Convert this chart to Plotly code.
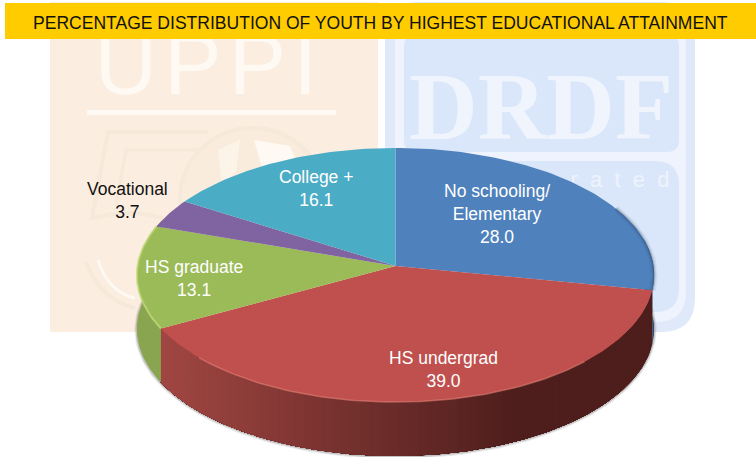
import math
import plotly.graph_objects as go

# ---- data ----
categories = ["No schooling/<br>Elementary", "HS undergrad", "HS graduate", "Vocational", "College +"]
values = [28.0, 39.0, 13.1, 3.7, 16.1]
top_colors = ["#4F81BD", "#C0504D", "#9BBB59", "#8064A2", "#4BACC6"]
title_text = "PERCENTAGE DISTRIBUTION OF YOUTH BY HIGHEST EDUCATIONAL ATTAINMENT"

# ---- projection of the tilted pie onto the page ----
CX, CY = 395.5, 266.0
RX, RY = 258.0, 126.4
PERSP = 0.0709
DEPTH = 54.0
W, H = 756, 457
FONT = "Liberation Sans, Arial"


def project(theta_deg, drop=0.0):
    t = math.radians(theta_deg)
    u, v = math.sin(t), math.cos(t)
    d = 1 + PERSP * v
    return CX + RX * u / d, CY - RY * v / d + drop


def arc(a, b, drop=0.0, step=1.0):
    n = max(2, int(abs(b - a) / step) + 1)
    pts = [project(a + (b - a) * i / (n - 1), drop) for i in range(n)]
    return [p[0] for p in pts], [p[1] for p in pts]


def mix(c1, c2, f):
    f = max(0.0, min(1.0, f))
    return "rgb(%d,%d,%d)" % tuple(round(c1[i] + (c2[i] - c1[i]) * f) for i in range(3))


total = sum(values)
bounds = [0.0]
for val in values:
    bounds.append(bounds[-1] + val / total * 360.0)

traces = []


def poly(xs, ys, color):
    traces.append(go.Scatter(x=xs, y=ys, mode="lines", fill="toself", fillcolor=color,
                             line=dict(width=0), hoverinfo="skip", showlegend=False))


def stroke(xs, ys, color, width):
    traces.append(go.Scatter(x=xs, y=ys, mode="lines", line=dict(color=color, width=width),
                             hoverinfo="skip", showlegend=False))


def wm_text(x, y, text, size, color, family):
    traces.append(go.Scatter(x=[x], y=[y], mode="text", text=[text],
                             textfont=dict(size=size, color=color, family=family),
                             textposition="middle center", hoverinfo="skip", showlegend=False))


# watermark texts (drawn first so that the pie covers them)
wm_text(206, 72, "U\u200aP\u200aP\u200aI", 86, "#FEF9F3", "Liberation Sans")
wm_text(541, 115, "<b>DRDF</b>", 95, "#EFF4FD", "Liberation Serif")
wm_text(620, 181, "r\u00a0\u00a0a\u00a0\u00a0t\u00a0\u00a0e\u00a0\u00a0d", 22, "#EEF3FC", "Liberation Sans")

# soft contact shadow under the pie
for wid, alpha in ((5, 0.12), (2.5, 0.25)):
    sx, sy = arc(72, 296, DEPTH + 0.5)
    stroke(sx, sy, "rgba(80,80,80,%.2f)" % alpha, wid)

# side walls: overlapping strips painted in order, so that no seams appear
RED_L, RED_R = (160, 70, 66), (78, 30, 28)
for idx, (a, b) in enumerate(zip(bounds[:-1], bounds[1:])):
    vis_a, vis_b = max(a, 78.0), min(b, 292.0)
    if vis_b <= vis_a:
        continue
    if idx == 1:
        strips = max(1, int((vis_b - vis_a) / 2.0))
        # paint from the far right (start angle) to the left; each overlaps the last
        for i in range(strips):
            p = vis_a + (vis_b - vis_a) * i / strips
            xs1, ys1 = arc(p, vis_b, 0, 0.5)
            xs2, ys2 = arc(vis_b, p, DEPTH, 0.5)
            col = mix(RED_L, RED_R, (project(p)[0] - 165) / 355)
            poly(xs1 + xs2 + xs1[:1], ys1 + ys2 + ys1[:1], col)
    else:
        col = "rgb(46,72,108)" if idx == 0 else "rgb(138,165,79)"
        xs1, ys1 = arc(vis_a, vis_b, 0, 0.5)
        xs2, ys2 = arc(vis_b, vis_a, DEPTH, 0.5)
        poly(xs1 + xs2 + xs1[:1], ys1 + ys2 + ys1[:1], col)

# top faces
for a, b, col in zip(bounds[:-1], bounds[1:], top_colors):
    xs, ys = arc(a, b)
    poly([CX] + xs + [CX], [CY] + ys + [CY], col)

# bevel highlights and edge darkening
for wid, alpha in ((7, 0.06), (4, 0.10), (2, 0.18)):
    xs, ys = arc(62, bounds[1])
    stroke(xs, ys, "rgba(25,45,80,%.2f)" % alpha, wid)
xs, ys = arc(bounds[1] + 35, bounds[2] - 15)
stroke(xs, ys, "rgba(240,140,130,0.5)", 1.5)
xs, ys = arc(bounds[2], bounds[3])
stroke(xs, ys, "rgba(195,220,120,0.7)", 2)

labels = [
    (497, 213.5, categories[0] + "<br>%.1f" % values[0], "white"),
    (443, 369, categories[1] + "<br>%.1f" % values[1], "white"),
    (194, 278, categories[2] + "<br>%.1f" % values[2], "white"),
    (127, 200, categories[3] + "<br>%.1f" % values[3], "#111111"),
    (316, 188, categories[4] + "<br>%.1f" % values[4], "white"),
]
annotations = [dict(x=x, y=y, text=t, showarrow=False, xref="x", yref="y", align="center",
                    xanchor="center", yanchor="middle", font=dict(family=FONT, size=17.5, color=c))
               for x, y, t, c in labels]
annotations.append(dict(x=380.5, y=22.5, text=title_text, showarrow=False, xref="x", yref="y",
                        xanchor="center", yanchor="middle", font=dict(family=FONT, size=17.55, color="#111111")))


def rounded(x0, y0, x1, y1, r, fill):
    path = (f"M{x0+r},{y0} L{x1-r},{y0} Q{x1},{y0} {x1},{y0+r} L{x1},{y1-r} Q{x1},{y1} {x1-r},{y1} "
            f"L{x0+r},{y1} Q{x0},{y1} {x0},{y1-r} L{x0},{y0+r} Q{x0},{y0} {x0+r},{y0} Z")
    return dict(type="path", path=path, fillcolor=fill, line=dict(width=0), layer="below")


LOGO = "#F5E9DA"
shapes = [
    dict(type="rect", x0=50, x1=378, y0=2, y1=332, fillcolor="#FBEDDF", line=dict(width=0), layer="below"),
    dict(type="rect", x0=87, x1=336, y0=110, y1=115, fillcolor="#FEF9F3", line=dict(width=0), layer="below"),
    dict(type="path", path="M208,132 L108,132 L92,218 Q140,205 180,225",
         line=dict(color=LOGO, width=4), layer="below"),
    dict(type="path", path="M205,150 L126,150 L116,205",
         line=dict(color=LOGO, width=3), layer="below"),
    dict(type="path", path="M86,262 Q100,300 135,308",
         line=dict(color=LOGO, width=4), layer="below"),
    dict(type="path", path="M98,260 Q108,292 135,298",
         line=dict(color="#FEF9F3", width=3), layer="below"),
    dict(type="circle", x0=180, x1=325, y0=128, y1=270, fillcolor="#FAECDC",
         line=dict(color=LOGO, width=4), layer="below"),
    dict(type="path", path="M254,140 L290,146 L300,170 L262,168 Z", fillcolor="#FEF9F3",
         line=dict(width=0), layer="below"),
    dict(type="path", path="M218,150 L240,140 L236,172 L222,185 Z", fillcolor="#FCF4E9",
         line=dict(width=0), layer="below"),
    rounded(385, 2, 695, 332, 34, "#DFE9FA"),
    rounded(395, 8, 686, 322, 30, "#EEF3FD"),
    rounded(404, 35, 679, 152, 12, "#DAE7FA"),
    rounded(404, 161, 679, 312, 24, "#DAE7FA"),
    dict(type="rect", x0=5, x1=756, y0=3, y1=39, fillcolor="#FFCC00", line=dict(width=0), layer="above"),
]

fig = go.Figure(traces)
fig.update_layout(
    width=W, height=H, margin=dict(l=0, r=0, t=0, b=0),
    paper_bgcolor="white", plot_bgcolor="white", showlegend=False,
    xaxis=dict(range=[0, W], visible=False, fixedrange=True),
    yaxis=dict(range=[H, 0], visible=False, fixedrange=True),
    shapes=shapes, annotations=annotations,
)
fig.write_html("out.html", config={"displayModeBar": False},
               post_script="document.body.style.margin='0';document.body.style.overflow='hidden';")
